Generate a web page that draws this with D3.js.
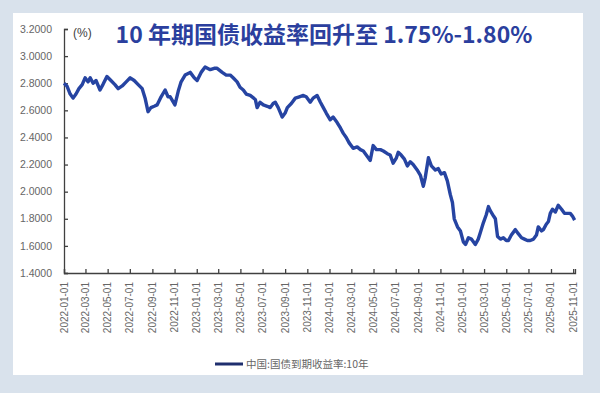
<!DOCTYPE html>
<html>
<head>
<meta charset="utf-8">
<script src="https://cdn.jsdelivr.net/npm/d3@7"></script>
<style>
  body { margin: 0; background: #d9e2ec; }
  svg { display: block; }
</style>
</head>
<body>
<div id="chart"></div>
<script>
// 数据：中国10年期国债到期收益率 (%)
const dates = [
  "2022-01-01","2022-01-09","2022-01-18","2022-01-26","2022-02-03","2022-02-11","2022-02-20","2022-02-28",
  "2022-03-08","2022-03-14","2022-03-22","2022-03-30","2022-04-10","2022-04-18","2022-04-29","2022-05-10",
  "2022-05-21","2022-05-30","2022-06-10","2022-06-21","2022-07-02","2022-07-13","2022-07-24","2022-08-04",
  "2022-08-12","2022-08-20","2022-08-28","2022-09-06","2022-09-14","2022-09-25","2022-10-06","2022-10-14",
  "2022-10-20","2022-11-02","2022-11-11","2022-11-19","2022-11-30","2022-12-14","2022-12-25","2023-01-02",
  "2023-01-13","2023-01-24","2023-02-07","2023-02-18","2023-02-26","2023-03-12","2023-03-23","2023-04-03",
  "2023-04-11","2023-04-22","2023-04-30","2023-05-09","2023-05-17","2023-05-28","2023-06-11","2023-06-16",
  "2023-06-24","2023-07-03","2023-07-14","2023-07-22","2023-07-30","2023-08-05","2023-08-13","2023-08-24",
  "2023-09-01","2023-09-07","2023-09-18","2023-09-29","2023-10-10","2023-10-21","2023-10-29","2023-11-09",
  "2023-11-17","2023-11-28","2023-12-07","2023-12-15","2023-12-23","2024-01-03","2024-01-11","2024-01-22",
  "2024-01-31","2024-02-08","2024-02-16","2024-02-24","2024-03-06","2024-03-17","2024-03-26","2024-04-03",
  "2024-04-14","2024-04-22","2024-04-30","2024-05-09","2024-05-20","2024-05-28","2024-06-08","2024-06-16",
  "2024-06-24","2024-07-03","2024-07-08","2024-07-16","2024-07-25","2024-08-02","2024-08-10","2024-08-18",
  "2024-08-29","2024-09-07","2024-09-15","2024-09-20","2024-09-29","2024-10-07","2024-10-18","2024-10-26",
  "2024-11-03","2024-11-12","2024-11-20","2024-11-28","2024-12-04","2024-12-09","2024-12-18","2024-12-26",
  "2025-01-03","2025-01-09","2025-01-17","2025-01-25","2025-02-05","2025-02-13","2025-02-19","2025-02-27",
  "2025-03-07","2025-03-13","2025-03-18","2025-03-27","2025-04-01","2025-04-07","2025-04-15","2025-04-23",
  "2025-05-01","2025-05-07","2025-05-15","2025-05-26","2025-06-03","2025-06-12","2025-06-20","2025-06-28",
  "2025-07-06","2025-07-15","2025-07-23","2025-07-28","2025-08-06","2025-08-11","2025-08-19","2025-08-25",
  "2025-08-30","2025-09-05","2025-09-13","2025-09-21","2025-09-30","2025-10-08","2025-10-16","2025-10-24",
  "2025-10-30","2025-11-05"
];
const yields = [
  2.80,2.78,2.72,2.69,2.72,2.76,2.79,2.84,
  2.81,2.84,2.80,2.82,2.75,2.79,2.85,2.82,
  2.79,2.76,2.78,2.81,2.84,2.82,2.79,2.76,
  2.69,2.59,2.62,2.63,2.64,2.70,2.75,2.70,
  2.70,2.64,2.74,2.81,2.86,2.88,2.84,2.82,
  2.88,2.92,2.90,2.91,2.91,2.88,2.86,2.86,
  2.84,2.81,2.77,2.75,2.72,2.71,2.68,2.62,
  2.66,2.64,2.63,2.62,2.65,2.66,2.62,2.55,
  2.58,2.62,2.65,2.69,2.70,2.71,2.70,2.66,
  2.69,2.71,2.66,2.62,2.58,2.53,2.55,2.51,
  2.47,2.43,2.40,2.36,2.32,2.33,2.31,2.30,
  2.26,2.23,2.34,2.31,2.31,2.30,2.28,2.27,
  2.21,2.25,2.29,2.27,2.24,2.19,2.22,2.20,
  2.16,2.12,2.04,2.10,2.25,2.19,2.16,2.17,
  2.13,2.14,2.08,1.98,1.92,1.80,1.74,1.71,
  1.63,1.61,1.66,1.65,1.61,1.65,1.70,1.77,
  1.83,1.89,1.86,1.82,1.80,1.67,1.65,1.66,
  1.64,1.64,1.68,1.72,1.69,1.66,1.65,1.64,
  1.64,1.65,1.68,1.74,1.71,1.72,1.76,1.78,
  1.84,1.87,1.85,1.90,1.87,1.84,1.84,1.84,
  1.82,1.79
];
const yTicks = [1.4, 1.6, 1.8, 2.0, 2.2, 2.4, 2.6, 2.8, 3.0, 3.2];
const xTickLabels = [
  "2022-01-01","2022-03-01","2022-05-01","2022-07-01","2022-09-01","2022-11-01",
  "2023-01-01","2023-03-01","2023-05-01","2023-07-01","2023-09-01","2023-11-01",
  "2024-01-01","2024-03-01","2024-05-01","2024-07-01","2024-09-01","2024-11-01",
  "2025-01-01","2025-03-01","2025-05-01","2025-07-01","2025-09-01","2025-11-01"
];
const titleText = "10 年期国债收益率回升至 1.75%-1.80%";
const seriesName = "中国:国债到期收益率:10年";

const width = 600;
const height = 393;
const parse = d3.timeParse("%Y-%m-%d");
const data = dates.map((d, i) => ({ date: parse(d), value: yields[i] }));

const svg = d3.select("#chart").append("svg")
  .attr("width", width)
  .attr("height", height);

// 背景面板
svg.append("rect").attr("width", width).attr("height", height).attr("fill", "#d9e2ec");
svg.append("rect")
  .attr("x", 13).attr("y", 13)
  .attr("width", 570).attr("height", 362)
  .attr("fill", "#ffffff");

const x = d3.scaleTime()
  .domain([parse("2022-01-01"), parse("2025-11-06")])
  .range([64, 575]);
const y = d3.scaleLinear()
  .domain([1.4, 3.2])
  .range([273, 29]);

const axisColor = "#404040";
const labelColor = "#666666";
const font = "'Liberation Sans', Arial, sans-serif";

// Y 轴
const yAxis = svg.append("g")
  .attr("transform", "translate(64,0)")
  .call(d3.axisRight(y).tickValues(yTicks).tickSize(4).tickFormat(""));
yAxis.select(".domain").attr("stroke", axisColor).attr("stroke-width", 1.3);
yAxis.selectAll(".tick line").attr("stroke", axisColor).attr("stroke-width", 1.3);

svg.append("g").selectAll("text")
  .data(yTicks)
  .join("text")
  .attr("x", 52)
  .attr("y", (d) => y(d))
  .attr("dy", "0.35em")
  .attr("text-anchor", "end")
  .attr("font-family", font)
  .attr("font-size", 10.5)
  .attr("fill", labelColor)
  .text((d) => d3.format(".4f")(d));

svg.append("text")
  .attr("x", 73).attr("y", 37)
  .attr("font-family", font)
  .attr("font-size", 12)
  .attr("fill", "#404040")
  .text("(%)");

// X 轴
const xAxis = svg.append("g")
  .attr("transform", "translate(0,273)")
  .call(d3.axisTop(x).tickValues(xTickLabels.map(parse)).tickSize(4).tickFormat(""));
xAxis.select(".domain").attr("stroke", axisColor).attr("stroke-width", 1.3);
xAxis.selectAll(".tick line").attr("stroke", axisColor).attr("stroke-width", 1.3);

svg.append("g").selectAll("text")
  .data(xTickLabels)
  .join("text")
  .attr("transform", (d) => `translate(${x(parse(d)) + 3.5},282) rotate(-90)`)
  .attr("text-anchor", "end")
  .attr("font-family", font)
  .attr("font-size", 10)
  .attr("fill", labelColor)
  .text((d) => d);

// 折线
const line = d3.line()
  .x((d) => x(d.date))
  .y((d) => y(d.value));

svg.append("path")
  .datum(data)
  .attr("fill", "none")
  .attr("stroke", "#2644a2")
  .attr("stroke-width", 3.4)
  .attr("stroke-linejoin", "round")
  .attr("d", line);

// 标题
svg.append("text")
  .attr("x", 324).attr("y", 43)
  .attr("text-anchor", "middle")
  .attr("font-family", "'Noto Sans CJK SC', sans-serif")
  .attr("font-weight", "bold")
  .attr("font-size", 23)
  .attr("fill", "#2b3f9e")
  .text(titleText);

// 图例
svg.append("line")
  .attr("x1", 215).attr("x2", 243)
  .attr("y1", 364).attr("y2", 364)
  .attr("stroke", "#1f2f6e")
  .attr("stroke-width", 3);
svg.append("text")
  .attr("x", 246).attr("y", 368)
  .attr("font-family", "'Noto Sans CJK SC', sans-serif")
  .attr("font-size", 10.5)
  .attr("fill", "#666666")
  .text(seriesName);
</script>
</body>
</html>
